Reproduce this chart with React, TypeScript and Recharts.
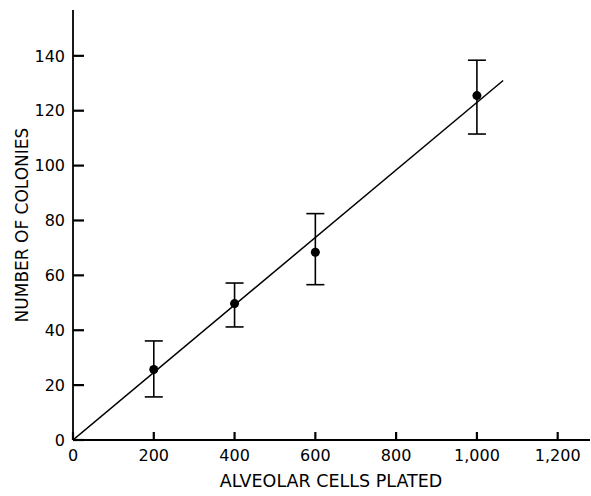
import { ComposedChart, XAxis, YAxis, Scatter, Line, ErrorBar } from 'recharts';

// readings taken from the plot
const cellsPlated = [200, 400, 600, 1000];
const colonies = [25.7, 49.7, 68.4, 125.5];
const errLow = [10, 8.5, 11.8, 14];
const errHigh = [10.4, 7.5, 14.1, 12.9];

const fitX = [0, 1065];
const fitY = [0, 131];

const xTicks = [0, 200, 400, 600, 800, 1000, 1200];
const xTickLabels = ['0', '200', '400', '600', '800', '1,000', '1,200'];
const yTicks = [0, 20, 40, 60, 80, 100, 120, 140];

const points = cellsPlated.map((x, i) => ({ x, y: colonies[i], err: [errLow[i], errHigh[i]] }));
const fit = fitX.map((x, i) => ({ x, y: fitY[i] }));

const FONT = 'DejaVu Sans';
const X_DOMAIN = [0, 1280];
const Y_DOMAIN = [0, 156.7];

// ticks point into the plot, so draw them with the label
function renderYTick(props: any) {
  const { x, y, payload } = props;
  return (
    <g key={`yt-${payload.value}`}>
      <path d={`M${Number(x) + 8},${y}h11`} stroke="black" strokeWidth={2.2} />
      <text x={x} y={y} dy="0.36em" textAnchor="end" fontFamily={FONT} fontSize={16} fill="black">
        {payload.value}
      </text>
    </g>
  );
}

function renderXTick(props: any) {
  const { x, y, payload, index } = props;
  return (
    <g key={`xt-${payload.value}`}>
      <path d={`M${x},${Number(y) - 10}v-8`} stroke="black" strokeWidth={2.2} />
      <text x={x} y={y} dy="0.71em" textAnchor="middle" fontFamily={FONT} fontSize={16} fill="black">
        {xTickLabels[index] ?? payload.value}
      </text>
    </g>
  );
}

const titleStyle: any = {
  position: 'absolute',
  fontFamily: FONT,
  color: 'black',
  whiteSpace: 'nowrap',
  lineHeight: 1,
};

export default function App() {
  return (
    <div style={{ position: 'absolute', left: 0, top: 0, width: 591, height: 496, background: '#fff' }}>
      <ComposedChart width={591} height={496} margin={{ top: 10, right: 1, bottom: 0, left: 0 }}>
        <XAxis
          dataKey="x"
          type="number"
          domain={X_DOMAIN}
          ticks={xTicks}
          tickSize={0}
          tickMargin={10}
          tick={renderXTick}
          height={56}
          axisLine={{ stroke: 'black', strokeWidth: 1.8 }}
          allowDataOverflow
        />
        <YAxis
          dataKey="y"
          type="number"
          domain={Y_DOMAIN}
          ticks={yTicks}
          tickSize={0}
          tickMargin={8}
          tick={renderYTick}
          width={73}
          axisLine={{ stroke: 'black', strokeWidth: 1.8 }}
          allowDataOverflow
        />
        {/* mirrored copies that only draw the inward tick marks */}
        <XAxis
          xAxisId="in"
          type="number"
          domain={X_DOMAIN}
          ticks={xTicks}
          mirror
          tick={false}
          tickSize={8}
          tickLine={{ stroke: 'black', strokeWidth: 2 }}
          axisLine={false}
          height={0}
          allowDataOverflow
        />
        <YAxis
          yAxisId="in"
          type="number"
          domain={Y_DOMAIN}
          ticks={yTicks}
          mirror
          tick={false}
          tickSize={11}
          tickLine={{ stroke: 'black', strokeWidth: 2 }}
          axisLine={false}
          width={0}
          allowDataOverflow
        />
        <Line
          data={fit}
          dataKey="y"
          type="linear"
          stroke="black"
          strokeWidth={1.5}
          dot={false}
          activeDot={false}
          isAnimationActive={false}
        />
        <Scatter data={points} dataKey="y" fill="black" isAnimationActive={false}>
          <ErrorBar dataKey="err" direction="y" width={9} stroke="black" strokeWidth={1.6} isAnimationActive={false} />
        </Scatter>
      </ComposedChart>
      <div style={{ ...titleStyle, left: 331, top: 482, fontSize: 17.5, transform: 'translate(-50%, -50%)' }}>
        ALVEOLAR CELLS PLATED
      </div>
      <div style={{ ...titleStyle, left: 22, top: 225, fontSize: 17, transform: 'translate(-50%, -50%) rotate(-90deg)' }}>
        NUMBER OF COLONIES
      </div>
    </div>
  );
}
